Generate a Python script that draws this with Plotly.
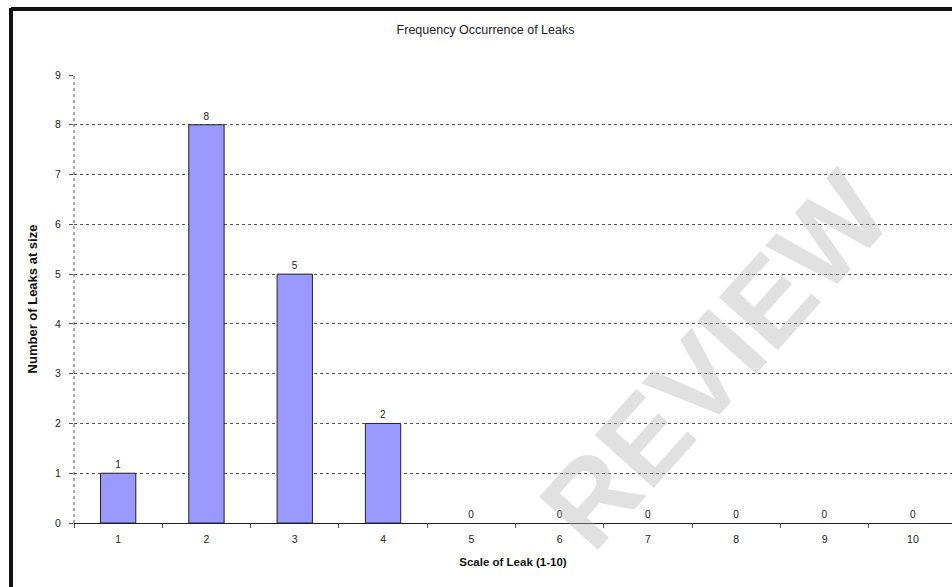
import plotly.graph_objects as go

# Leak size scale and how many leaks were recorded at each size
leak_scale = ["1", "2", "3", "4", "5", "6", "7", "8", "9", "10"]
leak_counts = [1, 8, 5, 2, 0, 0, 0, 0, 0, 0]
y_ticks = [0, 1, 2, 3, 4, 5, 6, 7, 8, 9]

font_family = "Liberation Sans, Arial, sans-serif"

fig = go.Figure(
    go.Bar(
        x=leak_scale,
        y=leak_counts,
        width=0.4,
        marker=dict(
            color="#9999FF",
            # empty categories get no outline so no sliver shows on the axis
            line=dict(color="#222222", width=[1 if v else 0 for v in leak_counts]),
        ),
        text=[str(v) for v in leak_counts],
        textposition="outside",
        cliponaxis=False,
        textfont=dict(family=font_family, size=10, color="#222222"),
        hoverinfo="x+y",
    )
)

fig.update_layout(
    width=952,
    height=587,
    margin=dict(l=74, r=0, t=75, b=64),
    paper_bgcolor="white",
    plot_bgcolor="white",
    showlegend=False,
    font=dict(family=font_family, size=10, color="#222222"),
    title=dict(
        text="Frequency Occurrence of Leaks",
        x=0.51,
        xanchor="center",
        y=1 - 30 / 587,
        yanchor="middle",
        font=dict(family=font_family, size=12.5, color="#222222"),
    ),
    xaxis=dict(
        type="category",
        range=[-0.5, 9.443],
        showgrid=False,
        zeroline=False,
        showline=False,
        ticks="outside",
        tickson="boundaries",
        ticklen=4,
        tickcolor="#555555",
        ticklabelstandoff=8,
        tickfont=dict(size=10.5, color="#222222"),
        title=dict(
            text="<b>Scale of Leak (1-10)</b>",
            font=dict(size=11.5, color="#111111"),
            standoff=14,
        ),
    ),
    yaxis=dict(
        range=[0, 9],
        tickvals=y_ticks,
        showgrid=True,
        gridcolor="#555555",
        griddash="dot",
        gridwidth=1,
        zeroline=True,
        zerolinecolor="#222222",
        zerolinewidth=1,
        showline=False,
        ticks="outside",
        ticklen=4,
        tickcolor="#555555",
        ticklabelstandoff=6,
        tickfont=dict(size=10.5, color="#222222"),
        title=dict(
            text="<b>Number of Leaks at size</b>",
            font=dict(size=13, color="#111111"),
            standoff=14,
        ),
    ),
)

# Dashed vertical axis line along the left edge of the plot area
fig.add_shape(
    type="line", xref="paper", yref="paper", x0=0, x1=0, y0=0, y1=1,
    line=dict(color="#555555", width=1, dash="dot"),
)

# Thick chart frame on the left and top
fig.add_shape(
    type="line", xref="paper", yref="paper",
    x0=-63 / 878, x1=-63 / 878, y0=-2, y1=1 + 67 / 448,
    line=dict(color="#111111", width=4),
)
fig.add_shape(
    type="line", xref="paper", yref="paper",
    x0=-63 / 878, x1=2, y0=1 + 66 / 448, y1=1 + 66 / 448,
    line=dict(color="#111111", width=4),
)

# Diagonal "REVIEW" stamp across the lower right
fig.add_annotation(
    text="<b>REVIEW</b>",
    xref="paper", yref="paper",
    x=(715 - 74) / 878, y=(523 - 360) / 448,
    xanchor="center", yanchor="middle",
    showarrow=False,
    textangle=-48,
    font=dict(family=font_family, size=115, color="rgba(175,175,175,0.38)"),
)

fig.write_html("out.html")
